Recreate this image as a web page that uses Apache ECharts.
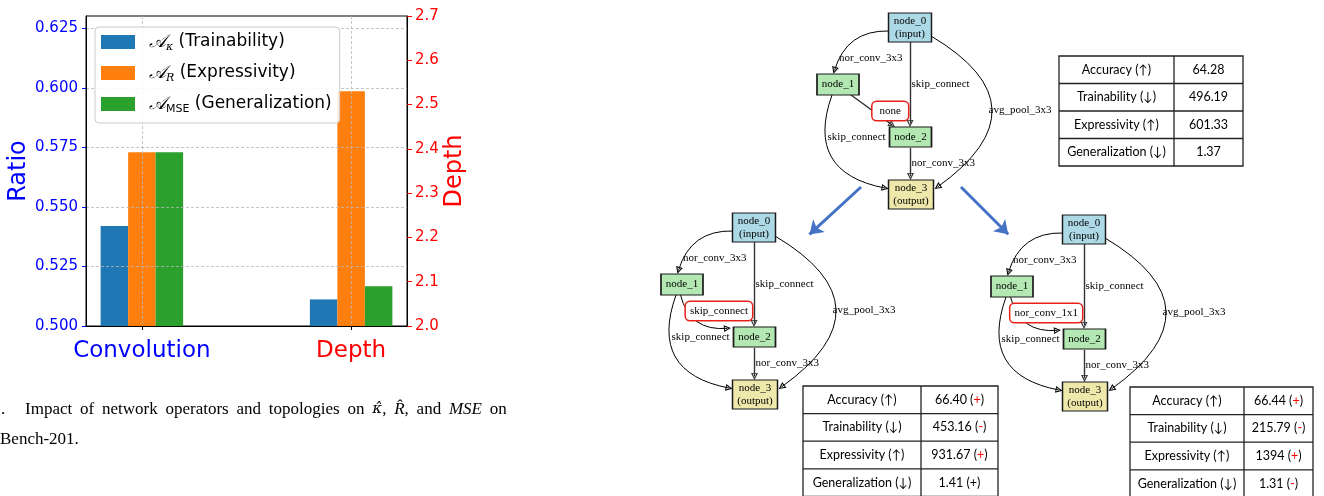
<!DOCTYPE html>
<html><head><meta charset="utf-8">
<script src="https://cdn.jsdelivr.net/npm/echarts@6/dist/echarts.min.js"></script>
<style>html,body{margin:0;padding:0;background:#fff}#c{width:1324px;height:496px}</style>
</head><body><div id="c"></div>
<script>
// ---------------- bar chart data ----------------
const categories = ['Convolution', 'Depth'];
const seriesNames = ['Trainability', 'Expressivity', 'Generalization'];
const seriesSubs = ['κ', 'R', 'MSE'];
const convolutionRatio = [0.542, 0.573, 0.573];   // left axis (Ratio)
const depthValue = [2.06, 2.53, 2.09];            // right axis (Depth)
const ratioTicks = [0.500, 0.525, 0.550, 0.575, 0.600, 0.625];
const depthTicks = [2.0, 2.1, 2.2, 2.3, 2.4, 2.5, 2.6, 2.7];

// ---------------- cell diagrams data ----------------
const nodeLabels = ['node_0\n(input)', 'node_1', 'node_2', 'node_3\n(output)'];
const edgeFrom = [0, 0, 0, 1, 1, 2];
const edgeTo   = [1, 2, 3, 2, 3, 3];
const edgeOps  = ['nor_conv_3x3', 'skip_connect', 'avg_pool_3x3', null, 'skip_connect', 'nor_conv_3x3'];
const changedOps = ['none', 'skip_connect', 'nor_conv_1x1'];   // op on edge node_1 -> node_2 per cell

// ---------------- tables data ----------------
const metricNames = ['Accuracy (↑)', 'Trainability (↓)', 'Expressivity (↑)', 'Generalization (↓)'];
const baseValues  = ['64.28', '496.19', '601.33', '1.37'];
const leftValues  = ['66.40', '453.16', '931.67', '1.41'];
const leftSigns   = ['+', '-', '+', '+'];
const leftSignHighlighted = [true, true, true, false];
const rightValues = ['66.44', '215.79', '1394', '1.31'];
const rightSigns  = ['+', '-', '+', '-'];
const rightSignHighlighted = [true, true, true, true];

// ---------------- caption ----------------
const captionLine1 = [['Impact', 'n'], ['of', 'n'], ['network', 'n'], ['operators', 'n'], ['and', 'n'], ['topologies', 'n'],
  ['on', 'n'], ['κ̂', 'k'], [',', 'n', true], ['R̂', 'i'], [',', 'n', true], ['and', 'n'], ['MSE', 'i'], ['on', 'n']];
const captionLine2 = 'Bench-201.';

// ================= layout / style =================
const barColors = ['#1f77b4', '#ff7f0e', '#2ca02c'];
const catColors = ['#0000ff', '#ff0000'];
const SANS = 'DejaVu Sans', SERIF = 'Liberation Serif', TSANS = 'Lato';

// diagram layout (pixel positions of the top cell; other cells are shifted copies)
const cellOffsets = [[0, 0], [-156, 200], [174, 202]];
const nodeCenters = [[910, 27.5], [838, 84.5], [910.5, 137], [911, 194.5]];
const nodeSizes = [[43, 29], [42, 21], [42, 20], [45, 29]];
const nodeColors = ['#add8e6', '#b3e8b3', '#b3e8b3', '#eee8aa'];
const routes = [
  { s: [889, 31], e: [834.5, 74], cp: [834, 39] },
  { s: [910, 42], e: [910, 127] },
  { s: [931, 36], e: [934.5, 189], cp: [1050, 112] },
  { s: [851, 95], e: [895, 127] },
  { s: [832, 95], e: [888.5, 189], cp: [800, 165] },
  { s: [910.5, 148], e: [910.5, 180] }
];
const routeChangedBottom = { s: [836.5, 95], e: [887, 128.5], cp: [838, 126] };
const labelAnchors = [[839, 58, 'l'], [911.5, 84, 'l'], [988.5, 110.5, 'l'], [908, 111, 'r'], [827.5, 137, 'l'], [911.5, 163, 'l']];
const blueArrows = [[[861, 187], [805, 238.5]], [[961, 187], [1012.5, 238.5]]];
const HOLLOW = 'path://M5,0L10,10L0,10Z M5,3.3L2.4,8.7L7.6,8.7Z';

function shorten(pt, from, len) {
  const dx = pt[0] - from[0], dy = pt[1] - from[1], d = Math.hypot(dx, dy);
  return [pt[0] - dx / d * len, pt[1] - dy / d * len];
}
function curvenessOf(s, e, cp) {
  if (!cp) return 0;
  const mx = (s[0] + e[0]) / 2, my = (s[1] + e[1]) / 2;
  const px = e[1] - s[1], py = s[0] - e[0];
  return ((cp[0] - mx) * px + (cp[1] - my) * py) / (px * px + py * py);
}

const gNodes = [], gLinks = [];
const invisible = { color: 'rgba(0,0,0,0)' };
function addNode(o) { o.name = 'n' + gNodes.length; gNodes.push(o); return gNodes.length - 1; }

cellOffsets.forEach((off, k) => {
  const sh = p => [p[0] + off[0], p[1] + off[1]];
  nodeLabels.forEach((txt, i) => {
    addNode({
      value: sh(nodeCenters[i]), symbol: 'rect', symbolSize: nodeSizes[i],
      itemStyle: { color: nodeColors[i], borderColor: '#1a1a1a', borderWidth: 1.2 },
      label: { show: true, position: 'inside', formatter: txt, fontFamily: SERIF, fontSize: 11, lineHeight: 13, color: '#000' }
    });
  });
  edgeFrom.forEach((f, j) => {
    const r = (j === 3 && k > 0) ? routeChangedBottom : routes[j];
    const s = sh(r.s), eRaw = sh(r.e), cp = r.cp ? sh(r.cp) : null;
    const e = shorten(eRaw, cp || s, 3.5);
    const a = addNode({ value: s, symbolSize: 0.1, itemStyle: invisible });
    const b = addNode({ value: e, symbolSize: 0.1, itemStyle: invisible });
    gLinks.push({
      source: a, target: b, symbol: ['none', HOLLOW], symbolSize: [0, 7],
      lineStyle: { color: cp ? '#000' : '#333', width: cp ? 1 : 1.4, curveness: curvenessOf(s, e, cp), opacity: 1 }
    });
    const op = j === 3 ? changedOps[k] : edgeOps[j];
    const la = labelAnchors[j];
    const boxed = j === 3;
    const lbl = { show: true, position: la[2] === 'r' ? 'left' : 'right', distance: 0, formatter: op,
      fontFamily: SERIF, fontSize: 11, color: '#000' };
    if (boxed) Object.assign(lbl, { backgroundColor: '#fff', borderColor: '#e8201c', borderWidth: 1.5, borderRadius: 4,
      padding: op.length < 6 ? [3, 7] : [3, 4], lineHeight: 12 });
    addNode({ value: sh([la[0], la[1]]), symbolSize: 0.1, itemStyle: invisible, label: lbl });
  });
});
blueArrows.forEach(([s, e]) => {
  const a = addNode({ value: s, symbolSize: 0.1, itemStyle: invisible });
  const b = addNode({ value: shorten(e, s, 6), symbolSize: 0.1, itemStyle: invisible });
  gLinks.push({ source: a, target: b, symbol: ['none', 'arrow'], symbolSize: [0, 13],
    lineStyle: { color: '#4472c4', width: 3, curveness: 0, opacity: 1 } });
});

// tables
const TFS = 12.5;
function tableGraphic(x0, y0, w1, w2, rowH, cellTexts) {
  const els = [], h = rowH * metricNames.length, st = { stroke: '#222', lineWidth: 1.3 };
  els.push({ type: 'rect', shape: { x: x0, y: y0, width: w1 + w2, height: h }, style: Object.assign({ fill: '#fff' }, st) });
  els.push({ type: 'line', shape: { x1: x0 + w1, y1: y0, x2: x0 + w1, y2: y0 + h }, style: st });
  for (let r = 1; r < metricNames.length; r++)
    els.push({ type: 'line', shape: { x1: x0, y1: y0 + rowH * r, x2: x0 + w1 + w2, y2: y0 + rowH * r }, style: st });
  metricNames.forEach((m, r) => {
    const cy = y0 + rowH * (r + 0.5);
    const rich = { k: { fill: '#000', fontFamily: TSANS, fontSize: TFS }, r: { fill: '#ff0000', fontFamily: TSANS, fontSize: TFS } };
    els.push({ type: 'text', x: x0 + w1 / 2, y: cy, style: { text: m, fill: '#000', fontFamily: TSANS, fontSize: TFS, align: 'center', verticalAlign: 'middle' } });
    els.push({ type: 'text', x: x0 + w1 + w2 / 2, y: cy, style: { text: cellTexts[r], rich, fill: '#000', fontFamily: TSANS, fontSize: TFS, align: 'center', verticalAlign: 'middle' } });
  });
  return { type: 'group', children: els };
}
const signed = (vals, signs, hl) => vals.map((v, i) => `{k|${v} (}{${hl[i] ? 'r' : 'k'}|${signs[i]}}{k|)}`);
const capRich = {
  n: { fontFamily: SERIF, fontSize: 17, fill: '#000' },
  i: { fontFamily: SERIF, fontSize: 17, fontStyle: 'italic', fill: '#000' },
  k: { fontFamily: 'DejaVu Serif', fontSize: 15, fontStyle: 'italic', fill: '#000' },
  w: { fontFamily: SERIF, fontSize: 17, width: 7.8 }
};
const capText = captionLine1.map((t, i) => (i > 0 && !t[2] ? '{w| }' : '') + `{${t[1]}|${t[0]}}`).join('');

const graphics = [
  tableGraphic(1059, 56, 115, 69, 27.5, baseValues.map(v => `{k|${v}}`)),
  tableGraphic(803, 386, 118, 77, 27.6, signed(leftValues, leftSigns, leftSignHighlighted)),
  tableGraphic(1130, 387, 114, 69, 27.6, signed(rightValues, rightSigns, rightSignHighlighted)),
  { type: 'text', x: 1, y: 409.5, style: { text: '.', fontFamily: SERIF, fontSize: 17, fill: '#000', verticalAlign: 'middle' } },
  { type: 'text', x: 25, y: 409.5, style: { text: capText, rich: capRich, verticalAlign: 'middle' } },
  { type: 'text', x: 0, y: 439.5, style: { text: captionLine2, fontFamily: SERIF, fontSize: 17, fill: '#000', verticalAlign: 'middle' } }
];

const plotBox = { left: 86, top: 16, width: 321, height: 310 };
const gridLine = { show: true, lineStyle: { type: [3, 2], color: '#b8b8b8', width: 0.8 } };

const chart = echarts.init(document.getElementById('c'));
chart.setOption({
  animation: false,
  grid: [
    Object.assign({ show: true, borderColor: '#000', borderWidth: 1 }, plotBox),
    Object.assign({}, plotBox),
    { left: 0, top: 0, width: 1324, height: 496 }
  ],
  legend: {
    data: seriesNames, orient: 'vertical', left: 95, top: 27, z: 10,
    itemWidth: 34, itemHeight: 14, itemGap: 11, padding: [6, 8, 8, 6],
    backgroundColor: 'rgba(255,255,255,0.85)', borderColor: '#cccccc', borderWidth: 1, borderRadius: 4,
    icon: 'rect',
    formatter: name => {
      const i = seriesNames.indexOf(name);
      return `{a|𝒜}{${i < 2 ? 's' : 'm'}|${seriesSubs[i]}}{t| (${name})}`;
    },
    textStyle: {
      fontFamily: SANS, fontSize: 17, color: '#000',
      rich: {
        a: { fontFamily: 'DejaVu Serif', fontStyle: 'italic', fontSize: 18, padding: [0, 0, 0, 9], lineHeight: 22 },
        s: { fontFamily: 'DejaVu Serif', fontStyle: 'italic', fontSize: 11, verticalAlign: 'bottom', lineHeight: 22 },
        m: { fontFamily: SANS, fontSize: 11, verticalAlign: 'bottom', lineHeight: 22 },
        t: { fontFamily: SANS, fontSize: 17, lineHeight: 22 }
      }
    }
  },
  xAxis: [
    { gridIndex: 0, type: 'value', min: -0.267, max: 1.267, z: 3,
      axisLine: { show: true, onZero: false, lineStyle: { color: '#000', width: 1 } },
      axisTick: { show: true, customValues: [0, 1], length: 4, lineStyle: { color: '#000' } },
      axisLabel: { customValues: [0, 1], margin: 14,
        formatter: v => { const i = Math.round(v); return `{c${i}|${categories[i]}}`; },
        rich: { c0: { color: catColors[0], fontFamily: SANS, fontSize: 23 }, c1: { color: catColors[1], fontFamily: SANS, fontSize: 23 } } },
      splitLine: gridLine },
    { gridIndex: 1, type: 'value', min: -0.267, max: 1.267, show: false, axisLine: { onZero: false } },
    { gridIndex: 2, type: 'value', min: 0, max: 1324, show: false, axisLine: { onZero: false } }
  ],
  yAxis: [
    { gridIndex: 0, type: 'value', position: 'left', min: 0.5, max: 0.6303, z: 3,
      name: 'Ratio', nameLocation: 'middle', nameRotate: 90, nameGap: 53,
      nameTextStyle: { color: '#0000ff', fontFamily: SANS, fontSize: 24 },
      axisLine: { show: true, onZero: false, lineStyle: { color: '#000' } },
      axisTick: { show: true, customValues: ratioTicks, length: 4, lineStyle: { color: '#0000ff' } },
      axisLabel: { customValues: ratioTicks, formatter: v => v.toFixed(3), color: '#0000ff', fontFamily: SANS, fontSize: 15, margin: 8 },
      splitLine: gridLine },
    { gridIndex: 1, type: 'value', position: 'right', min: 2.0, max: 2.7, z: 3,
      name: 'Depth', nameLocation: 'middle', nameRotate: 90, nameGap: 36,
      nameTextStyle: { color: '#ff0000', fontFamily: SANS, fontSize: 24 },
      axisLine: { show: true, onZero: false, lineStyle: { color: '#000' } },
      axisTick: { show: true, customValues: depthTicks, length: 5, lineStyle: { color: '#ff0000' } },
      axisLabel: { customValues: depthTicks, formatter: v => v.toFixed(1), color: '#ff0000', fontFamily: SANS, fontSize: 15, margin: 8 },
      splitLine: { show: false } },
    { gridIndex: 2, type: 'value', min: 0, max: 496, inverse: true, show: false, axisLine: { onZero: false } }
  ],
  graphic: graphics,
  series: [
    ...seriesNames.map((n, i) => ({ type: 'bar', name: n, xAxisIndex: 0, yAxisIndex: 0, data: [[0, convolutionRatio[i]]],
      barWidth: 27.5, barGap: '0%', itemStyle: { color: barColors[i] } })),
    ...seriesNames.map((n, i) => ({ type: 'bar', name: n, xAxisIndex: 1, yAxisIndex: 1, data: [[1, depthValue[i]]],
      barWidth: 27.5, barGap: '0%', itemStyle: { color: barColors[i] } })),
    { type: 'graph', name: 'cells', coordinateSystem: 'cartesian2d', xAxisIndex: 2, yAxisIndex: 2, layout: 'none',
      data: gNodes, links: gLinks, silent: true, roam: false, label: { show: false },
      lineStyle: { opacity: 1 }, emphasis: { disabled: true }, z: 5 }
  ]
});
</script></body></html>
